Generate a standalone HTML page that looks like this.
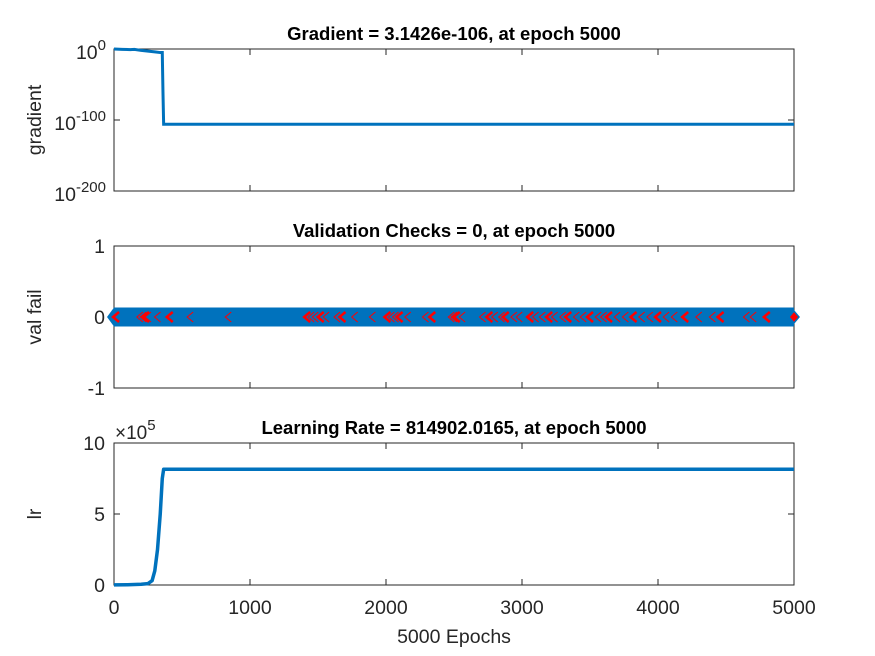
<!DOCTYPE html>
<html><head><meta charset="utf-8"><style>
body{margin:0;background:#fff;}
svg{display:block;font-family:"Liberation Sans",Arial,sans-serif;}
</style></head><body>
<svg id="fig" width="875" height="656" viewBox="0 0 875 656"></svg>
<script>
const epochTicks=[0,1000,2000,3000,4000,5000];
const gradEpochs=[0,60,120,150,200,250,300,340,355,360,365,5000];
const gradLog10=[0,-0.5,-0.8,-0.5,-2,-3,-4,-5,-5,-60,-106,-106];
const valEpochs=[0,5000];
const valValues=[0,0];
const failEpochs=[15,190,215,235,250,320,410,560,840,1420,1450,1480,1520,1560,1640,1680,1770,1900,2010,2040,2070,2100,2160,2290,2340,2480,2500,2520,2560,2710,2760,2800,2850,2880,2940,2980,3060,3100,3150,3200,3240,3300,3340,3400,3450,3500,3560,3600,3640,3700,3760,3820,3880,3940,4000,4060,4120,4200,4300,4400,4460,4650,4700,4800];
const lrEpochs=[0,100,200,250,280,300,320,340,355,365,5000];
const lrValues=[0.01,0.02,0.05,0.1,0.3,1,2.5,5,7.5,8.15,8.15];
const gradTicks=[0,-100,-200];
const valTicks=[1,0,-1];
const lrTicks=[10,5,0];

const NS="http://www.w3.org/2000/svg";
const svg=document.getElementById('fig');
function mk(t,a,txt){const e=document.createElementNS(NS,t);for(const k in a)e.setAttribute(k,a[k]);if(txt!=null)e.textContent=txt;svg.appendChild(e);return e;}
const X0=114,X1=794;
const xs=e=>X0+(e/5000)*(X1-X0);
const BLUE="#0072bd",AX="#262626";
const panels=[{top:49,bot:191,min:-200,max:0},{top:246,bot:388,min:-1,max:1},{top:443,bot:585,min:0,max:10}];
function ys(p,v){return p.bot-(v-p.min)/(p.max-p.min)*(p.bot-p.top);}
function frame(p,name,ticks,fmt,title,ylabel){
  let r=mk('rect',{x:X0,y:p.top,width:X1-X0,height:p.bot-p.top,fill:'none',stroke:AX,'stroke-width':1});
  
  epochTicks.forEach(t=>{const x=xs(t);
    mk('line',{x1:x,x2:x,y1:p.bot,y2:p.bot-6,stroke:AX});mk('line',{x1:x,x2:x,y1:p.top,y2:p.top+6,stroke:AX});});
  ticks.forEach(t=>{const y=ys(p,t);mk('line',{x1:X0,x2:X0+6,y1:y,y2:y,stroke:AX});mk('line',{x1:X1,x2:X1-6,y1:y,y2:y,stroke:AX});
    fmt(t,y);});
  let tt=mk('text',{x:454,y:p.top-9,'text-anchor':'middle','font-size':18.5,'font-weight':'bold',fill:'#000'},title);
  
  let yl=mk('text',{x:0,y:0,'text-anchor':'middle','font-size':19.5,fill:AX,transform:`translate(41,${(p.top+p.bot)/2}) rotate(-90)`},ylabel);
  
}
function plainTick(t,y){const e=mk('text',{x:105,y:y+7,'text-anchor':'end','font-size':19.5,fill:AX},String(t));}
function logTick(t,y){const e=mk('text',{x:106,y:y+10,'text-anchor':'end','font-size':19.5,fill:AX});
  
  const a=document.createElementNS(NS,'tspan');a.textContent='10';e.appendChild(a);
  const b=document.createElementNS(NS,'tspan');b.setAttribute('dy','-9');b.setAttribute('font-size','15');b.textContent=String(t);e.appendChild(b);}

// Panel 1
const p1=panels[0];
frame(p1,'gradient',gradTicks,logTick,'Gradient = 3.1426e-106, at epoch 5000','gradient');
let gl=mk('polyline',{points:gradEpochs.map((e,i)=>xs(e)+','+ys(p1,gradLog10[i])).join(' '),fill:'none',stroke:BLUE,'stroke-width':3});


// Panel 2
const p2=panels[1];
frame(p2,'val-fail',valTicks,plainTick,'Validation Checks = 0, at epoch 5000','val fail');
let vl=mk('polyline',{points:valEpochs.map((e,i)=>xs(e)+','+ys(p2,valValues[i])).join(' '),fill:'none',stroke:BLUE,'stroke-width':19});

{const y=ys(p2,valValues[0]);let a=mk('polygon',{points:`${X0-7},${y} ${X0},${y-9.5} ${X0},${y+9.5}`,fill:BLUE});}
failEpochs.forEach((e,i)=>{const x=xs(e),y=ys(p2,0);
  const m=mk('path',{d:`M${x+3},${y-5} L${x-3},${y} L${x+3},${y+5}`,fill:'none',stroke:'#ff0000','stroke-width':i%3==0?2.5:1});
  });
{const x=xs(5000),y=ys(p2,0);let d=mk('polygon',{points:`${x-5},${y} ${x},${y-6} ${x+5},${y} ${x},${y+6}`,fill:'#ff0000',stroke:BLUE,'stroke-width':1.5});}

// Panel 3
const p3=panels[2];
frame(p3,'learning-rate',lrTicks,plainTick,'Learning Rate = 814902.0165, at epoch 5000','lr');
let ll=mk('polyline',{points:lrEpochs.map((e,i)=>xs(e)+','+ys(p3,lrValues[i])).join(' '),fill:'none',stroke:BLUE,'stroke-width':3.5,'stroke-linejoin':'round'});

{let e=mk('text',{x:115,y:439,'font-size':19,fill:AX});
 const a=document.createElementNS(NS,'tspan');a.textContent='×10';e.appendChild(a);
 const b=document.createElementNS(NS,'tspan');b.setAttribute('dy','-9');b.setAttribute('font-size','15');b.textContent='5';e.appendChild(b);}
epochTicks.forEach(t=>{const e=mk('text',{x:xs(t),y:614,'text-anchor':'middle','font-size':19.5,fill:AX},String(t));});
{const e=mk('text',{x:454,y:643,'text-anchor':'middle','font-size':19.5,fill:AX},'5000 Epochs');}
</script>
</body></html>
